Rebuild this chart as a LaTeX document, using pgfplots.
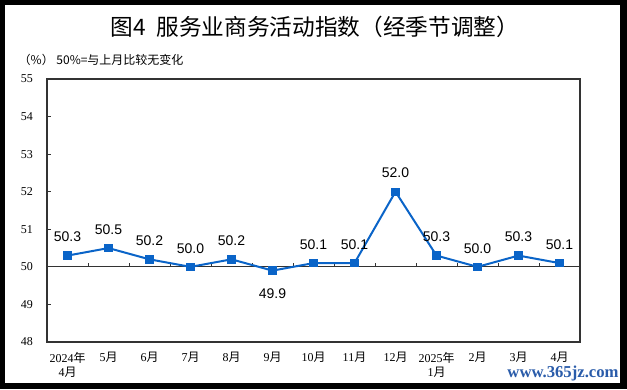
\documentclass[border=0pt]{standalone}
\usepackage{pgfplots}
\pgfplotsset{compat=1.18}
\usepackage{fontspec}
\setmainfont{Liberation Serif}
\newfontfamily\cjk{Noto Sans CJK SC}
\newfontfamily\arial{Liberation Sans}
\newcommand\yue{{\cjk 月}}
\newcommand\nian{{\cjk 年}}
\definecolor{lineblue}{HTML}{0A64C8}
\definecolor{framegray}{HTML}{333333}
\definecolor{wmblue}{HTML}{2A5CAA}
\begin{document}
\begin{tikzpicture}[x=0.75pt,y=0.75pt]
\path[use as bounding box] (0,0) rectangle (627,389);
\fill[black] (0,0) rectangle (627,389);
\fill[white] (5,6) rectangle (620,384);
\node[font=\cjk\fontsize{17}{20}\selectfont] at (315,362) {图4\ \ 服务业商务活动指数（经季节调整）};
\node[anchor=west, font=\cjk\fontsize{9}{11}\selectfont] at (14,329) {（\%）\ 50\%=与上月比较无变化};
\begin{axis}[
  at={(35.25pt,35.25pt)}, anchor=south west, scale only axis,
  width=399.75pt, height=197.25pt,
  xmin=-0.5, xmax=12.5, ymin=48, ymax=55,
  ytick={48,...,55}, ytick pos=left, tick align=inside,
  major tick length=3pt,
  xtick={0,...,12}, x tick style={draw=none},
  xticklabels={{2024\nian\\4\yue},5\yue,6\yue,7\yue,8\yue,9\yue,10\yue,11\yue,12\yue,{2025\nian\\1\yue},2\yue,3\yue,4\yue},
  xticklabel style={align=center, font=\fontsize{9}{11}\selectfont, yshift=-4pt},
  yticklabel style={font=\fontsize{9}{11}\selectfont, xshift=-7pt},
  /pgf/number format/assume math mode=true,
  axis line style={framegray, line width=0.8pt},
  tick style={framegray, line width=0.6pt},
  clip=false,
]
\draw[framegray, line width=0.8pt] (axis cs:-0.5,50) -- (axis cs:12.5,50);
\pgfplotsinvokeforeach{0.5,1.5,...,11.5}{\draw[framegray, line width=0.6pt] (axis cs:#1,50) -- ++(0pt,3pt);}
\addplot[lineblue, line width=1.5pt, mark=square*, mark size=2.4pt, mark options={solid}]
  coordinates {(0,50.3)(1,50.5)(2,50.2)(3,50.0)(4,50.2)(5,49.9)(6,50.1)(7,50.1)(8,52.0)(9,50.3)(10,50.0)(11,50.3)(12,50.1)};
\addplot[draw=none, mark=none, nodes near coords={\pgfmathprintnumber[fixed,fixed zerofill,precision=1]{\pgfplotspointmeta}},
  every node near coord/.append style={anchor=center, yshift=14pt, font=\arial\fontsize{10.5}{12}\selectfont, text=black}]
  coordinates {(0,50.3)(1,50.5)(2,50.2)(3,50.0)(4,50.2)(6,50.1)(7,50.1)(8,52.0)(9,50.3)(10,50.0)(11,50.3)(12,50.1)};
\addplot[draw=none, mark=none, nodes near coords={\pgfmathprintnumber[fixed,fixed zerofill,precision=1]{\pgfplotspointmeta}},
  every node near coord/.append style={anchor=center, yshift=-17pt, font=\arial\fontsize{10.5}{12}\selectfont, text=black}]
  coordinates {(5,49.9)};
\end{axis}
\node[font=\bfseries\fontsize{12.5}{14}\selectfont, text=wmblue] at (563,16) {www.365jz.com};
\end{tikzpicture}
\end{document}
